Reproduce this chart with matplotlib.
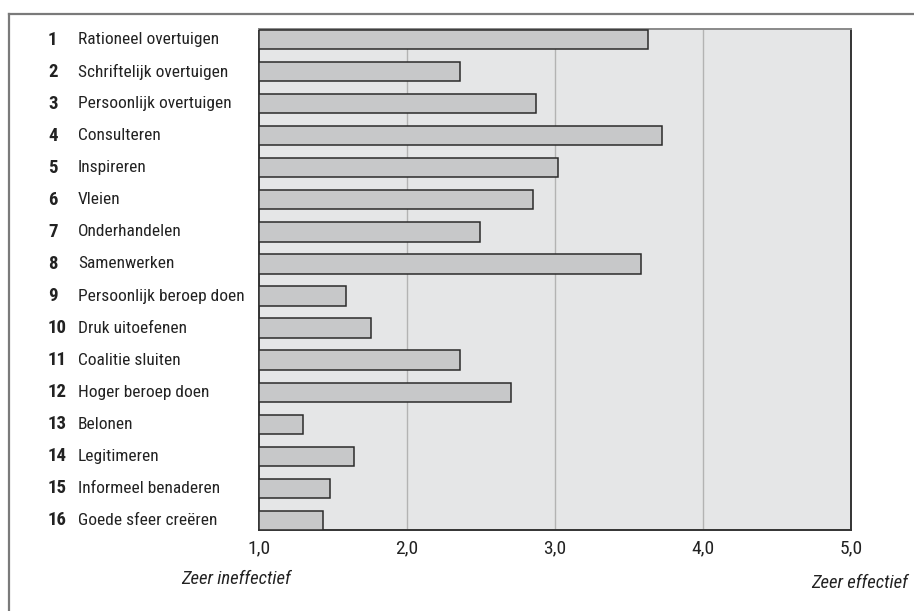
import matplotlib
matplotlib.use("Agg")
import matplotlib.pyplot as plt
from matplotlib import font_manager
from matplotlib.lines import Line2D

# Data
numbers = [str(i) for i in range(1, 17)]
tactics = [
    "Rationeel overtuigen", "Schriftelijk overtuigen", "Persoonlijk overtuigen",
    "Consulteren", "Inspireren", "Vleien", "Onderhandelen", "Samenwerken",
    "Persoonlijk beroep doen", "Druk uitoefenen", "Coalitie sluiten",
    "Hoger beroep doen", "Belonen", "Legitimeren", "Informeel benaderen",
    "Goede sfeer creëren",
]
scores = [3.63, 2.36, 2.87, 3.72, 3.02, 2.85, 2.49, 3.58,
          1.59, 1.76, 2.36, 2.70, 1.30, 1.64, 1.48, 1.43]
x_ticks = [1.0, 2.0, 3.0, 4.0, 5.0]
x_tick_labels = ["1,0", "2,0", "3,0", "4,0", "5,0"]
low_label = "Zeer ineffectief"
high_label = "Zeer effectief"

# Prefer a narrow sans family when one is present
narrow_candidates = ["Liberation Sans Narrow", "Roboto Condensed",
                     "Open Sans Condensed", "DejaVu Sans"]
available = {f.name for f in font_manager.fontManager.ttflist}
family = next(f for f in narrow_candidates if f in available or f == "DejaVu Sans")
plt.rcParams["font.family"] = [family, "DejaVu Sans"]
plt.rcParams["font.stretch"] = "condensed"

TXT = "#222222"
FS = 12.5

W, H = 914, 611
fig = plt.figure(figsize=(W / 100, H / 100), dpi=100)
fig.patch.set_facecolor("white")

# Outer frame: top and left rules
fig.add_artist(Line2D([9 / W, 1.0], [1 - 14 / H, 1 - 14 / H],
                      transform=fig.transFigure, color="#7a7a7a", lw=1.6))
fig.add_artist(Line2D([9 / W, 9 / W], [0.0, 1 - 14 / H],
                      transform=fig.transFigure, color="#7a7a7a", lw=1.6))

left, right, top, bottom = 259, 851, 29, 530
ax = fig.add_axes([left / W, 1 - bottom / H, (right - left) / W, (bottom - top) / H])
ax.set_facecolor("#e5e6e7")

ypos = list(range(len(scores)))
ax.barh(ypos, [s - 1.0 for s in scores], left=1.0, height=0.6,
        color="#c7c8c9", edgecolor="#2b2b2b", linewidth=1.1, zorder=3)

ax.set_xlim(1.0, 5.0)
ax.set_ylim(15.3, -0.33)
for gx in x_ticks[1:-1]:
    ax.axvline(gx, color="#b3b3b3", lw=1.0, zorder=1)

ax.set_xticks(x_ticks)
ax.set_xticklabels(x_tick_labels, fontsize=14, color=TXT)
ax.tick_params(axis="x", length=0, pad=7)
ax.set_yticks([])

for side in ["left", "bottom", "right"]:
    ax.spines[side].set_color("#333333")
    ax.spines[side].set_linewidth(1.4)
ax.spines["top"].set_color("#8a8a8a")
ax.spines["top"].set_linewidth(1.4)

# Row labels: bold number + tactic name
for y, num, name in zip(ypos, numbers, tactics):
    yf = ax.transData.transform((1.0, y))[1] / H
    fig.text(48 / W, yf, num, ha="left", va="center", fontsize=FS + 1,
             fontweight="bold", color=TXT)
    fig.text(78 / W, yf, name, ha="left", va="center", fontsize=FS,
             color=TXT)

fig.text(236 / W, 1 - 579 / H, low_label, ha="center", va="center",
         fontsize=13.5, style="italic", color=TXT)
fig.text(908 / W, 1 - 583 / H, high_label, ha="right", va="center",
         fontsize=13.5, style="italic", color=TXT)

fig.savefig("out.png", dpi=100)
